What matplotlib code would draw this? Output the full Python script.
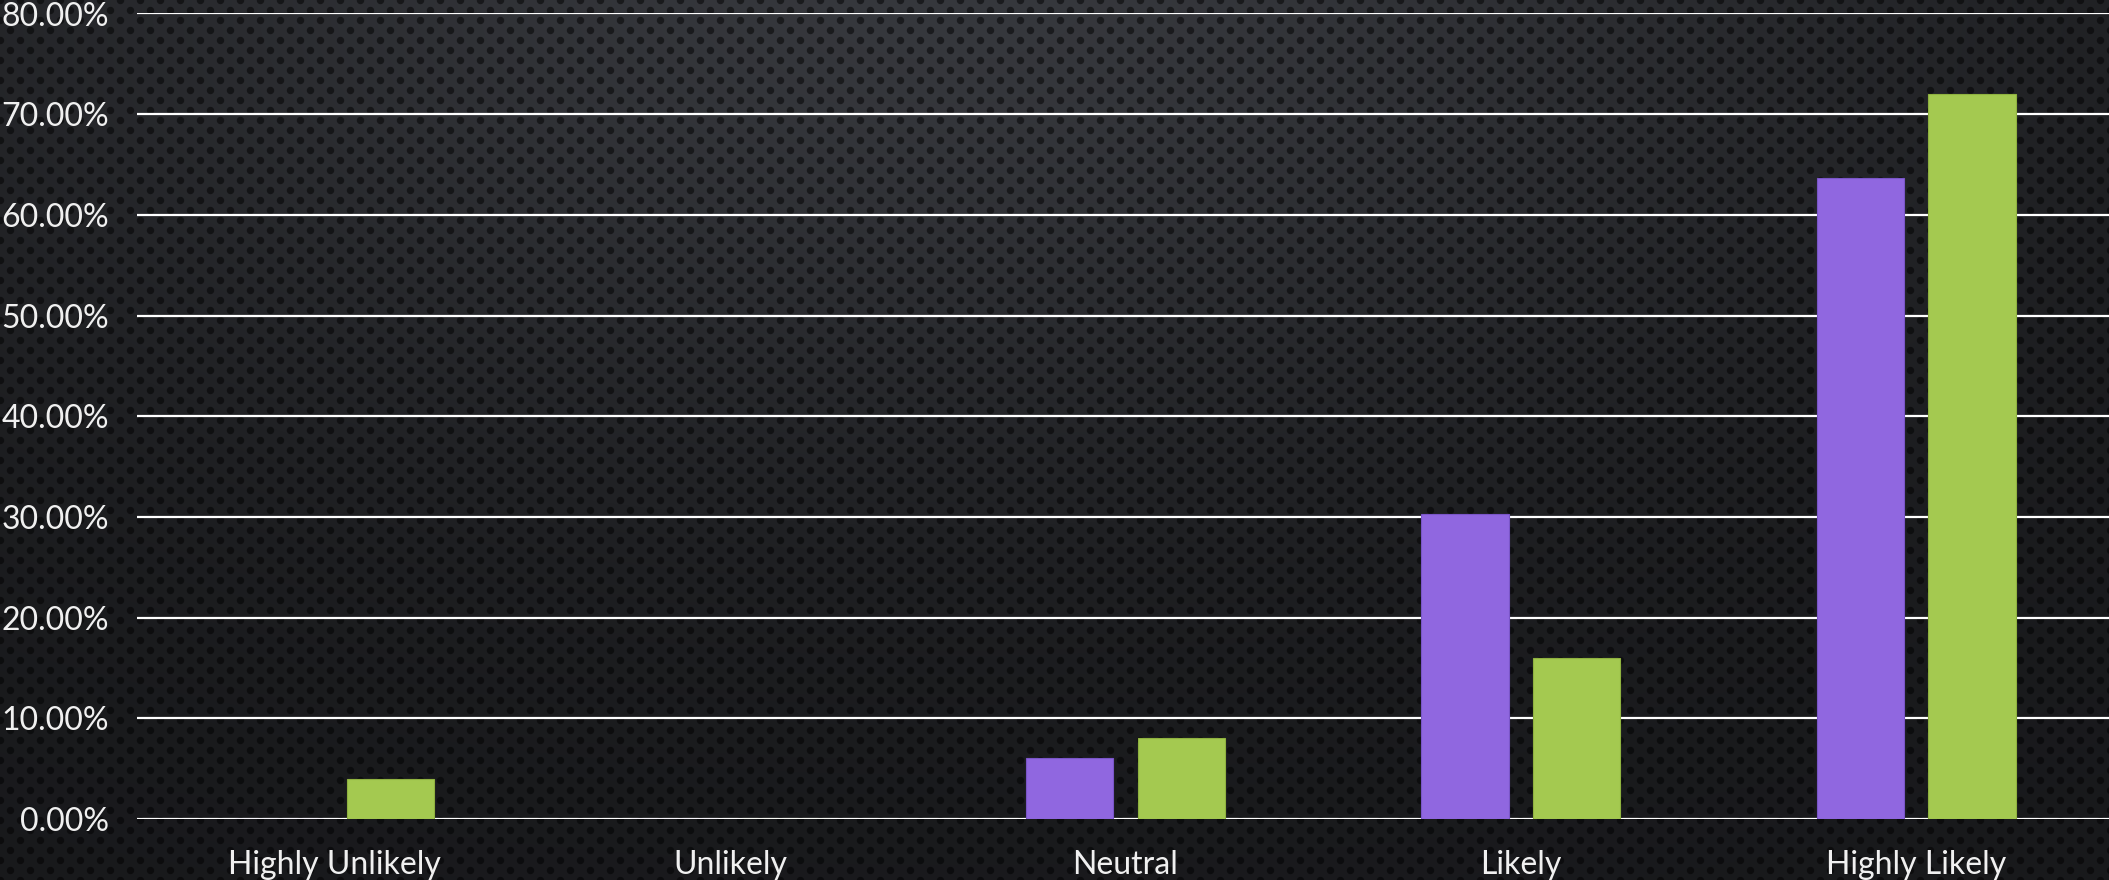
import matplotlib
matplotlib.use("Agg")
import matplotlib.pyplot as plt
from matplotlib.ticker import PercentFormatter
import numpy as np

# === Data ===
categories = ["Highly Unlikely", "Unlikely", "Neutral", "Likely", "Highly Likely"]
series_a = [0.0, 0.0, 6.06, 30.30, 63.64]   # purple
series_b = [4.0, 0.0, 8.0, 16.0, 72.0]      # green
y_ticks = [0, 10, 20, 30, 40, 50, 60, 70, 80]

purple = "#9067e0"
green = "#a4c950"
text_color = "#f0f0f0"

W, H = 2109, 880
plt.rcParams['font.family'] = ['Lato', 'DejaVu Sans']

fig = plt.figure(figsize=(W / 100, H / 100), dpi=100)

# === Background: dark perforated texture with a soft top light ===
yy, xx = np.mgrid[0:H, 0:W].astype(float)
glow = np.exp(-(((xx - 950) / 1000) ** 2 + (yy / 450) ** 2))
base = 0.10 + 0.12 * glow

def dot_dist(row):
    cy = row * 10
    off = (row % 2) * 10
    cx = np.round((xx - off) / 20) * 20 + off
    return np.hypot(xx - cx, yy - cy)

r0 = np.floor(yy / 10)
d = np.minimum(dot_dist(r0), dot_dist(r0 + 1))
hole = np.clip(4.2 - d, 0, 1)
shade = base * (1 - 0.5 * hole)
bg = np.dstack([shade * 0.96, shade * 0.99, shade * 1.08])
bg = np.clip(bg, 0, 1)

bg_ax = fig.add_axes([0, 0, 1, 1], zorder=0)
bg_ax.imshow(bg, aspect="auto", interpolation="nearest")
bg_ax.axis("off")

# === Bars ===
left_px, right_px = 137, 2114
bottom_px, top_px = 819, 13.5
ax = fig.add_axes([left_px / W, 1 - bottom_px / H,
                   (right_px - left_px) / W, (bottom_px - top_px) / H], zorder=1)
ax.patch.set_alpha(0)

x = np.arange(len(categories))
bw = 0.221
step = 0.141
ax.bar(x - step, series_a, width=bw, color=purple, edgecolor="#7a55c8", linewidth=0.8, zorder=3)
ax.bar(x + step, series_b, width=bw, color=green, edgecolor="#8fb23f", linewidth=0.8, zorder=3)

ax.set_xlim(-0.5, len(categories) - 0.5)
ax.set_ylim(0, 80)
ax.set_yticks(y_ticks)
ax.yaxis.set_major_formatter(PercentFormatter(decimals=2))
ax.set_xticks(x)
ax.set_xticklabels(categories)
ax.grid(axis="y", color="white", linewidth=1.6, zorder=1)
ax.set_axisbelow(True)
for s in ax.spines.values():
    s.set_visible(False)
ax.tick_params(axis="both", length=0, colors=text_color, labelsize=23)
ax.tick_params(axis="y", pad=20)
ax.tick_params(axis="x", pad=22)

fig.savefig("out.png", dpi=100)
